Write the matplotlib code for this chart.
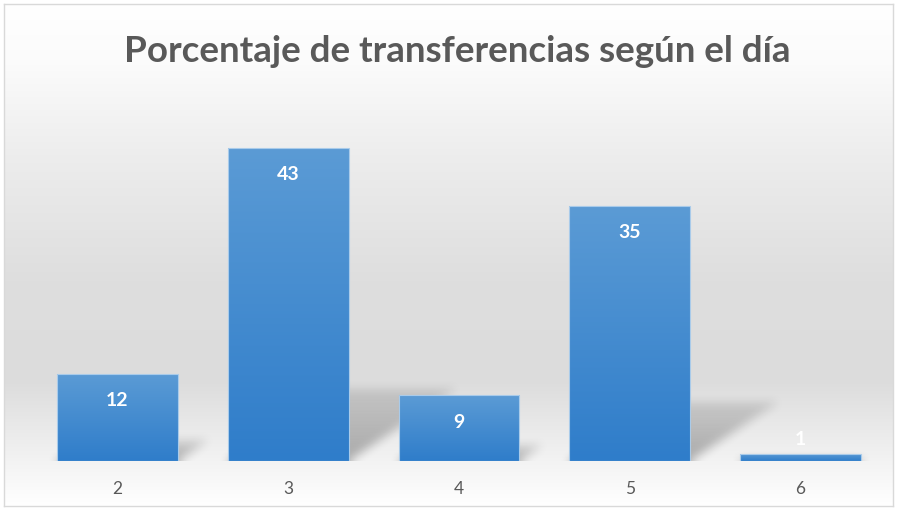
"""Porcentaje de transferencias segun el dia - barras estilo Excel"""

import numpy as np
import matplotlib
matplotlib.use('Agg')
import matplotlib.pyplot as plt
from matplotlib.colors import LinearSegmentedColormap

# datos
dias = ['2', '3', '4', '5', '6']
porcentajes = [12, 43, 9, 35, 1]
titulo = 'Porcentaje de transferencias según el día'

W, H = 897, 510
fig = plt.figure(figsize=(W / 100, H / 100), dpi=100)
fig.patch.set_facecolor('white')

# fondo con degradado vertical (blanco - gris - blanco)
bg_ax = fig.add_axes([4 / W, 3 / H, 889 / W, 502 / H], zorder=0)
stops = [(0.0, '#ffffff'), (0.12, '#fbfbfb'), (0.30, '#ededed'),
         (0.55, '#dedede'), (0.75, '#dcdcdc'), (0.92, '#f4f4f4'), (1.0, '#ffffff')]
bg_cmap = LinearSegmentedColormap.from_list('bg', stops)
bg_ax.imshow(np.linspace(0, 1, 256).reshape(-1, 1), aspect='auto', cmap=bg_cmap,
             extent=[0, 1, 0, 1], origin='upper')
bg_ax.set_xlim(0, 1)
bg_ax.set_ylim(0, 1)
bg_ax.set_xticks([])
bg_ax.set_yticks([])
for s in bg_ax.spines.values():
    s.set_color('#d9d9d9')
    s.set_linewidth(1)

# ejes principales
ax = fig.add_axes([32 / W, 48 / H, 854 / W, 364 / H], zorder=1)
ax.patch.set_alpha(0)
x = np.arange(len(dias))
ancho = 0.707
ymax = 50
ax.set_xlim(-0.5, len(dias) - 0.5)
ax.set_ylim(0, ymax)

# sombras en perspectiva (raster difuminado)
nx, ny = 854, 364
xs = np.linspace(-0.5, len(dias) - 0.5, nx)
ys = np.linspace(ymax, 0, ny)
XX, YY = np.meshgrid(xs, ys)
mask = np.zeros((ny, nx))
for c, v in zip(x, porcentajes):
    hs = 0.23 * v
    sk = 0.0147 * v
    t = np.clip(YY / max(hs, 1e-6), 0, None)
    inside = (YY <= hs) & (XX >= c - ancho / 2 + sk * t) & (XX <= c + ancho / 2 + sk * t)
    mask = np.maximum(mask, inside * (1 - 0.6 * t))


def box_blur(a, r):
    for axis in (0, 1):
        pad = [(0, 0), (0, 0)]
        pad[axis] = (r + 1, r)
        p = np.pad(a, pad, mode='edge')
        cs = np.cumsum(p, axis=axis)
        if axis == 0:
            a = (cs[2 * r + 1:, :] - cs[:-2 * r - 1, :]) / (2 * r + 1)
        else:
            a = (cs[:, 2 * r + 1:] - cs[:, :-2 * r - 1]) / (2 * r + 1)
    return a


mask = box_blur(box_blur(mask, 5), 5)
sombra = np.zeros((ny, nx, 4))
sombra[..., 3] = mask * 0.30
ax.imshow(sombra, extent=[-0.5, len(dias) - 0.5, 0, ymax], aspect='auto',
          zorder=1, interpolation='bilinear')

# barras con degradado
barras = ax.bar(x, porcentajes, width=ancho, color='none',
                edgecolor='#a9cbea', linewidth=0.8, zorder=3)
bar_cmap = LinearSegmentedColormap.from_list('bar', ['#5b9bd5', '#2f7dca'])
grad = np.linspace(0, 1, 128).reshape(-1, 1)
for b in barras:
    x0, y0 = b.get_x(), b.get_y()
    im = ax.imshow(grad, cmap=bar_cmap, aspect='auto', origin='upper',
                   extent=[x0, x0 + b.get_width(), y0, y0 + b.get_height()],
                   zorder=2)
    im.set_clip_path(b)
ax.set_xlim(-0.5, len(dias) - 0.5)
ax.set_ylim(0, ymax)

# etiquetas de datos (dentro del extremo; encima si la barra es muy baja)
for c, v in zip(x, porcentajes):
    dy = -18.5 if v >= 4 else 11
    ax.annotate(str(v), (c, v), xytext=(0, dy), textcoords='offset points',
                ha='center', va='center', color='white', fontsize=14,
                fontweight='bold', family='Lato', zorder=4)

ax.set_xticks(x)
ax.set_xticklabels(dias, fontsize=12.5, color='#595959', family='Lato')
ax.tick_params(axis='x', length=0, pad=13.5)
ax.set_yticks([])
for s in ax.spines.values():
    s.set_visible(False)

fig.text(457 / W, 1 - 51 / H, titulo, ha='center', va='center', fontsize=26.5,
         fontweight='bold', color='#595959', family='Lato')

fig.savefig('out.png', dpi=100)
